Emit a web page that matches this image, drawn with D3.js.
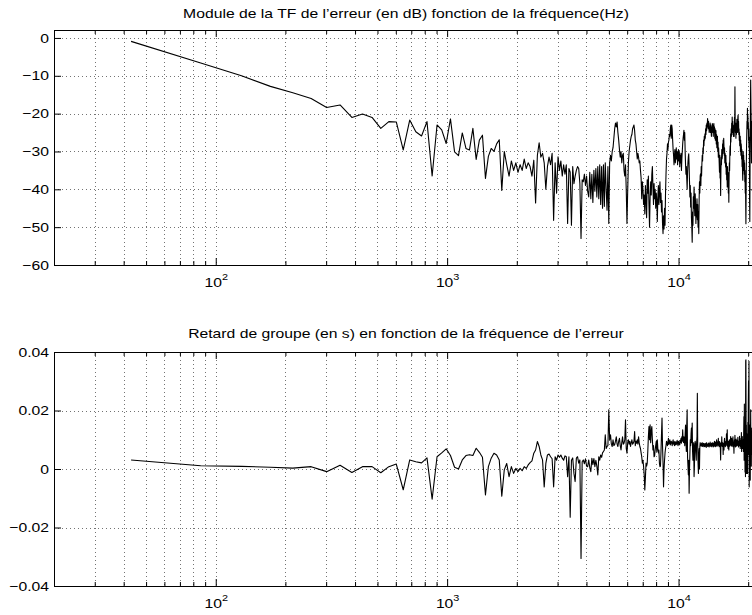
<!DOCTYPE html>
<html>
<head>
<meta charset="utf-8">
<script src="https://cdn.jsdelivr.net/npm/d3@7"></script>
<style>
  body { margin: 0; background: #fff; }
  svg { display: block; }
  text { font-family: "Liberation Sans", Arial, Helvetica, sans-serif; fill: #000; }
</style>
</head>
<body>
<svg id="fig" width="752" height="615"></svg>
<script>
// FFT bin spacing (Hz): bin k sits at k * binHz
const binHz = 44100 / 1024

// module of the error spectrum (dB), bins 1..485
const moduleDb = [
  -0.9, -6.6, -10.0, -12.8, -14.5, -16.0, -18.4, -17.7, -21.0, -20.1,
  -21.0, -23.9, -22.1, -22.2, -29.6, -21.7, -24.8, -25.9, -22.1, -36.5,
  -23.0, -24.3, -27.9, -21.4, -30.1, -31.1, -25.1, -29.2, -29.6, -23.9,
  -32.1, -27.0, -25.7, -37.1, -31.3, -29.2, -30.0, -28.0, -26.9, -40.3,
  -30.0, -33.5, -36.5, -32.5, -35.0, -33.0, -35.5, -33.5, -35.0, -32.0,
  -34.5, -33.0, -34.0, -36.5, -32.3, -43.6, -31.0, -27.7, -31.5, -30.5,
  -33.0, -40.0, -34.0, -31.5, -33.5, -30.5, -48.2, -33.0, -41.0, -31.4,
  -35.0, -32.5, -36.5, -33.5, -36.0, -33.5, -49.0, -34.5, -35.5, -49.5,
  -34.0, -38.5, -36.5, -35.0, -34.0, -34.5, -38.5, -53.0, -37.5, -38.0,
  -36.0, -39.0, -36.5, -40.5, -42.0, -35.5, -42.5, -36.0, -43.5, -35.0,
  -40.5, -34.5, -42.0, -34.0, -42.5, -33.5, -44.0, -34.0, -45.0, -33.5,
  -44.5, -33.0, -40.0, -45.5, -34.0, -49.0, -33.0, -31.0, -32.5, -30.0,
  -29.0, -26.5, -24.0, -22.5, -23.5, -22.2, -25.0, -27.0, -29.5, -31.5,
  -30.0, -33.0, -31.0, -30.5, -35.0, -36.5, -33.5, -40.0, -49.0, -40.5,
  -33.0, -30.0, -28.5, -27.0, -26.0, -25.5, -24.0, -23.5, -23.0, -24.5,
  -27.0, -28.0, -30.0, -32.0, -30.5, -31.5, -33.0, -32.5, -35.0, -37.0,
  -42.5, -38.0, -40.0, -44.0, -41.5, -46.5, -39.0, -43.0, -47.5, -37.5,
  -41.0, -36.5, -44.0, -50.0, -42.0, -38.0, -41.5, -36.0, -34.0, -39.5,
  -44.0, -38.5, -42.5, -40.0, -45.0, -41.0, -43.0, -48.5, -42.0, -39.0,
  -44.0, -40.5, -38.0, -43.5, -41.0, -46.0, -43.0, -49.0, -51.7, -47.0,
  -50.5, -45.0, -49.5, -41.0, -36.0, -32.0, -30.5, -28.0, -29.5, -27.5,
  -27.0, -25.5, -26.0, -24.0, -23.0, -26.5, -23.0, -24.0, -27.0, -29.5,
  -31.0, -33.5, -31.0, -29.5, -33.0, -31.5, -29.0, -32.0, -30.0, -33.5,
  -31.0, -29.5, -32.5, -30.0, -34.0, -31.0, -33.0, -30.5, -35.0, -32.0,
  -30.0, -28.0, -26.5, -25.5, -24.4, -27.0, -25.0, -30.0, -33.5, -36.0,
  -34.0, -37.2, -40.0, -35.5, -33.0, -31.5, -30.6, -34.0, -38.0, -42.0,
  -39.0, -44.7, -41.0, -47.5, -50.0, -54.0, -46.0, -49.5, -42.0, -45.0,
  -39.4, -44.0, -47.0, -41.2, -43.5, -49.0, -44.0, -47.3, -42.5, -48.0,
  -44.0, -50.0, -46.0, -51.7, -43.0, -38.0, -41.0, -36.5, -35.9, -39.0,
  -34.0, -36.5, -33.2, -31.0, -32.5, -29.0, -30.5, -27.0, -28.5, -26.0,
  -27.0, -25.3, -26.5, -24.0, -25.5, -23.0, -24.5, -22.5, -23.5, -21.3,
  -22.5, -24.0, -22.0, -23.5, -25.0, -23.5, -24.5, -22.5, -25.0, -23.0,
  -24.4, -26.0, -23.5, -25.0, -22.6, -24.5, -23.0, -26.0, -24.0, -22.6,
  -25.0, -23.5, -26.5, -24.0, -27.0, -26.2, -24.5, -28.0, -25.5, -29.0,
  -27.9, -26.0, -30.0, -27.5, -31.5, -29.0, -30.6, -33.0, -35.5, -31.0,
  -37.0, -34.0, -41.6, -35.0, -31.5, -33.5, -29.5, -32.0, -31.4, -28.0,
  -30.5, -27.0, -29.5, -26.5, -28.8, -31.0, -29.0, -33.0, -30.5, -32.5,
  -34.1, -31.0, -36.0, -33.0, -37.5, -35.0, -39.4, -34.0, -38.0, -35.5,
  -41.0, -36.0, -43.4, -37.0, -33.0, -35.0, -30.0, -28.5, -31.0, -25.3,
  -27.5, -24.0, -26.0, -22.5, -25.0, -20.9, -24.0, -22.0, -25.5, -23.0,
  -26.0, -24.5, -23.5, -26.0, -21.0, -24.0, -12.9, -22.0, -25.0, -22.5,
  -26.5, -23.0, -25.5, -23.5, -21.5, -24.5, -22.0, -25.0, -21.0, -20.4,
  -23.5, -22.0, -25.5, -24.0, -27.0, -25.0, -28.5, -27.9, -26.0, -30.0,
  -27.0, -31.0, -28.0, -28.8, -32.0, -29.5, -34.0, -31.0, -35.5, -37.6,
  -33.0, -30.0, -34.0, -31.0, -35.0, -32.3, -36.0, -33.0, -38.0, -35.0,
  -41.0, -37.0, -44.0, -49.1, -40.0, -33.0, -28.0, -25.0, -22.0, -24.0,
  -18.6, -22.0, -20.5, -24.0, -22.5, -27.0, -24.0, -29.0, -26.2, -30.0,
  -44.0, -48.5, -35.0, -25.0, -18.0, -11.1, -16.0, -21.0, -27.0, -33.0,
  -24.0, -28.0, -22.0, -23.5, -26.0
]

// group delay of the error (s), bins 1..485
const groupDelay = [
  0.0031, 0.0011, 0.0009, 0.0006, 0.0003, 0.0008, -0.0009, 0.0013, -0.0012, 0.0008,
  0.0008, -0.0013, 0.0008, 0.0017, -0.0071, 0.0031, 0.0025, 0.0021, 0.0038, -0.0103,
  0.0042, 0.0055, 0.0069, 0.0046, 0.0006, 0.0000, 0.0031, 0.0046, 0.0049, 0.0046,
  0.0071, 0.0057, 0.0040, -0.0089, 0.0008, 0.0037, 0.0054, 0.0048, 0.0031, -0.0093,
  -0.0003, 0.0019, -0.0026, 0.0008, -0.0015, 0.0002, -0.0009, 0.0002, -0.0006, 0.0008,
  0.0002, 0.0014, 0.0022, 0.0028, 0.0054, 0.0065, 0.0094, 0.0077, 0.0048, 0.0031,
  -0.0061, 0.0019, 0.0048, 0.0051, 0.0042, 0.0035, -0.0061, 0.0042, 0.0030, 0.0048,
  0.0040, 0.0048, 0.0037, 0.0030, 0.0045, 0.0042, -0.0026, 0.0042, -0.0165, 0.0030,
  0.0038, -0.0015, -0.0043, 0.0037, 0.0042, 0.0020, 0.0031, -0.0306, 0.0025, 0.0031,
  0.0018, 0.0035, 0.0010, 0.0008, 0.0031, 0.0005, -0.0009, 0.0037, 0.0015, 0.0036,
  0.0008, 0.0030, 0.0010, -0.0020, 0.0042, 0.0030, 0.0048, 0.0040, 0.0055, 0.0060,
  0.0065, 0.0117, 0.0070, 0.0077, 0.0080, 0.0202, 0.0100, 0.0117, 0.0085, 0.0077,
  0.0100, 0.0080, 0.0083, 0.0095, 0.0110, 0.0085, 0.0077, 0.0095, 0.0105, 0.0080,
  0.0065, 0.0090, 0.0110, 0.0085, 0.0088, 0.0100, 0.0168, 0.0070, 0.0054, 0.0090,
  0.0100, 0.0085, 0.0095, 0.0077, 0.0090, 0.0100, 0.0085, 0.0088, 0.0095, 0.0128,
  0.0080, 0.0095, 0.0088, 0.0100, 0.0085, 0.0110, 0.0090, 0.0077, 0.0070, 0.0055,
  0.0042, 0.0020, 0.0030, 0.0008, -0.0020, -0.0072, -0.0030, 0.0020, 0.0010, 0.0019,
  0.0060, 0.0110, 0.0145, 0.0100, 0.0151, 0.0090, 0.0130, 0.0145, 0.0100, 0.0065,
  0.0080, 0.0042, 0.0045, 0.0065, 0.0080, 0.0095, 0.0060, 0.0100, 0.0070, 0.0055,
  0.0065, 0.0020, 0.0008, 0.0010, 0.0060, 0.0120, 0.0174, 0.0080, 0.0020, -0.0061,
  0.0000, 0.0030, 0.0055, 0.0070, 0.0080, 0.0095, 0.0088, 0.0080, 0.0092, 0.0105,
  0.0085, 0.0090, 0.0100, 0.0082, 0.0090, 0.0095, 0.0088, 0.0080, 0.0092, 0.0100,
  0.0085, 0.0092, 0.0080, 0.0095, 0.0088, 0.0082, 0.0092, 0.0085, 0.0098, 0.0088,
  0.0080, 0.0095, 0.0085, 0.0092, 0.0082, 0.0098, 0.0090, 0.0105, 0.0088, 0.0110,
  0.0095, 0.0134, 0.0100, 0.0090, 0.0110, 0.0100, 0.0080, 0.0120, 0.0150, 0.0090,
  0.0060, 0.0150, 0.0202, 0.0040, 0.0010, -0.0020, 0.0030, -0.0083, 0.0000, 0.0050,
  0.0100, 0.0080, 0.0120, 0.0140, 0.0090, 0.0157, 0.0060, 0.0030, 0.0070, 0.0090,
  -0.0026, 0.0010, 0.0080, 0.0095, 0.0085, 0.0055, 0.0030, 0.0090, 0.0110, 0.0259,
  0.0080, 0.0020, -0.0015, 0.0040, 0.0070, 0.0000, 0.0075, 0.0090, 0.0080, 0.0085,
  0.0078, 0.0088, 0.0080, 0.0090, 0.0077, 0.0085, 0.0080, 0.0088, 0.0076, 0.0086,
  0.0082, 0.0076, 0.0088, 0.0079, 0.0085, 0.0074, 0.0090, 0.0080, 0.0086, 0.0077,
  0.0084, 0.0078, 0.0089, 0.0081, 0.0075, 0.0087, 0.0080, 0.0092, 0.0078, 0.0085,
  0.0079, 0.0088, 0.0076, 0.0084, 0.0090, 0.0080, 0.0086, 0.0075, 0.0089, 0.0082,
  0.0078, 0.0095, 0.0080, 0.0087, 0.0076, 0.0092, 0.0083, 0.0079, 0.0100, 0.0085,
  0.0078, 0.0092, 0.0082, 0.0088, 0.0105, 0.0080, 0.0090, 0.0076, 0.0094, 0.0081,
  0.0088, 0.0070, 0.0031, 0.0085, 0.0092, 0.0079, 0.0110, 0.0084, 0.0077, 0.0090,
  0.0082, 0.0050, 0.0088, 0.0079, 0.0065, 0.0093, 0.0105, 0.0081, 0.0088, 0.0076,
  0.0090, 0.0095, 0.0080, 0.0120, 0.0085, 0.0092, 0.0134, 0.0078, 0.0088, 0.0070,
  0.0095, 0.0082, 0.0065, 0.0090, 0.0100, 0.0078, 0.0093, 0.0084, 0.0096, 0.0111,
  0.0080, 0.0092, 0.0085, 0.0105, 0.0078, 0.0099, 0.0088, 0.0082, 0.0110, 0.0076,
  0.0090, 0.0084, 0.0054, 0.0092, 0.0100, 0.0080, 0.0115, 0.0086, 0.0075, 0.0095,
  0.0083, 0.0102, 0.0078, 0.0090, 0.0085, 0.0096, 0.0099, 0.0080, 0.0108, 0.0082,
  0.0090, 0.0075, 0.0095, 0.0086, 0.0080, 0.0112, 0.0084, 0.0092, 0.0070, 0.0098,
  0.0077, 0.0105, 0.0082, 0.0125, 0.0060, 0.0095, 0.0088, 0.0111, 0.0070, 0.0085,
  0.0070, 0.0100, 0.0060, 0.0120, 0.0179, 0.0030, 0.0222, 0.0050, 0.0110, -0.0010,
  0.0150, -0.0026, 0.0370, 0.0373, 0.0060, 0.0150, -0.0015, 0.0100, 0.0040, 0.0120,
  -0.0015, 0.0090, 0.0160, 0.0050, 0.0230, 0.0300, 0.0100, 0.0368, -0.0061, 0.0120,
  0.0020, 0.0150, 0.0080, -0.0038, 0.0100, 0.0202, 0.0060, 0.0120, 0.0010, 0.0110,
  0.0080, 0.0140, 0.0050, 0.0100, 0.0090
]

const freqRange = [20, 22050]
const decades = [100, 1000, 10000]
const moduleTicks = [0, -10, -20, -30, -40, -50, -60]
const delayTicks = [0.04, 0.02, 0, -0.02, -0.04]
const moduleTitle = "Module de la TF de l\u2019erreur (en dB) fonction de la fréquence(Hz)"
const delayTitle = "Retard de groupe (en s) en fonction de la fréquence de l\u2019erreur"

const plotLeft = 54, plotRight = 758
// the figure text is wider than it is tall (stretched print)
const textStretch = 1.21
const svg = d3.select("#fig")

// every 1..9 x 10^n inside the frequency range (minor + major log positions)
let logSteps = []
for (let d = 10; d <= 10000; d *= 10) {
  for (let m = 1; m <= 9; m++) {
    let v = m * d
    if (v > freqRange[0] && v < freqRange[1]) logSteps.push(v)
  }
}
let minorSteps = logSteps.filter(v => decades.indexOf(v) < 0)

function minus_format(v){
  return String(v).replace("-", "\u2212")
}

function stretch_text(sel){
  sel.each(function(){
    let t = d3.select(this)
    let tx = +t.attr("x") || 0
    let ty = +t.attr("y") || 0
    t.attr("x", 0).attr("y", 0)
      .attr("transform", `translate(${tx},${ty}) scale(${textStretch},1)`)
  })
}

function draw_panel(panel){
  let x = d3.scaleLog().domain(freqRange).range([plotLeft, plotRight])
  let y = d3.scaleLinear().domain(panel.yDomain).range([panel.bottom, panel.top])
  let g = svg.append("g")

  // dotted grid
  g.append("g").selectAll("line").data(logSteps).join("line")
    .attr("x1", d => Math.round(x(d)) + 0.5).attr("x2", d => Math.round(x(d)) + 0.5)
    .attr("y1", panel.top).attr("y2", panel.bottom)
    .attr("stroke", "#000").attr("stroke-opacity", 0.55).attr("stroke-dasharray", "1,3")
  g.append("g").selectAll("line").data(panel.yTicks.filter(v => y(v) > panel.top + 1 && y(v) < panel.bottom - 1)).join("line")
    .attr("x1", plotLeft).attr("x2", plotRight)
    .attr("y1", d => Math.round(y(d)) + 0.5).attr("y2", d => Math.round(y(d)) + 0.5)
    .attr("stroke", "#000").attr("stroke-opacity", 0.55).attr("stroke-dasharray", "1,3")

  // curve
  let line = d3.line()
    .x((d, i) => x((i + 1) * binHz))
    .y(d => y(d))
  g.append("path")
    .datum(panel.values)
    .attr("d", line)
    .attr("fill", "none")
    .attr("stroke", "#000")
    .attr("stroke-width", 1.1)
    .attr("stroke-linejoin", "round")

  // ticks, all pointing inside
  let bottomMajor = d3.axisBottom(x).tickValues(decades).tickSizeInner(-7).tickSizeOuter(0)
  let bottomMinor = d3.axisBottom(x).tickValues(minorSteps).tickSizeInner(-4).tickSizeOuter(0).tickFormat("")
  let topMajor = d3.axisTop(x).tickValues(decades).tickSizeInner(-7).tickSizeOuter(0).tickFormat("")
  let topMinor = d3.axisTop(x).tickValues(minorSteps).tickSizeInner(-4).tickSizeOuter(0).tickFormat("")
  let leftAxis = d3.axisLeft(y).tickValues(panel.yTicks).tickSizeInner(-7).tickSizeOuter(0).tickPadding(5).tickFormat(minus_format)
  let rightAxis = d3.axisRight(y).tickValues(panel.yTicks).tickSizeInner(-7).tickSizeOuter(0).tickFormat("")

  let gb = g.append("g").attr("transform", `translate(0,${panel.bottom})`).call(bottomMajor)
  g.append("g").attr("transform", `translate(0,${panel.bottom})`).call(bottomMinor)
  g.append("g").attr("transform", `translate(0,${panel.top})`).call(topMajor)
  g.append("g").attr("transform", `translate(0,${panel.top})`).call(topMinor)
  let gl = g.append("g").attr("transform", `translate(${plotLeft},0)`).call(leftAxis)
  g.append("g").attr("transform", `translate(${plotRight},0)`).call(rightAxis)
  g.selectAll(".domain").remove()

  gl.selectAll(".tick text")
    .attr("font-size", 13)
    .attr("font-family", "Liberation Sans, Arial, sans-serif")
    .call(stretch_text)

  // 10^n labels
  gb.selectAll(".tick text")
    .text(null)
    .attr("dy", null)
    .attr("y", 22)
    .attr("font-size", 13)
    .attr("font-family", "Liberation Sans, Arial, sans-serif")
    .each(function(d){
      let t = d3.select(this)
      t.append("tspan").text("10")
      t.append("tspan").attr("dy", -7).attr("font-size", 9).text(Math.round(Math.log10(d)))
    })
    .call(stretch_text)

  // frame
  g.append("rect")
    .attr("x", plotLeft + 0.5).attr("y", panel.top + 0.5)
    .attr("width", plotRight - plotLeft).attr("height", panel.bottom - panel.top)
    .attr("fill", "none").attr("stroke", "#000").attr("stroke-width", 1)

  // title
  g.append("text")
    .attr("x", (plotLeft + plotRight) / 2)
    .attr("y", panel.titleY)
    .attr("text-anchor", "middle")
    .attr("font-size", 13)
    .text(panel.title)
    .call(stretch_text)
}

draw_panel({
  values: moduleDb, yDomain: [-60, 2.1], yTicks: moduleTicks,
  top: 30, bottom: 265, title: moduleTitle, titleY: 18
})
draw_panel({
  values: groupDelay, yDomain: [-0.04, 0.04], yTicks: delayTicks,
  top: 352, bottom: 586, title: delayTitle, titleY: 338
})
</script>
</body>
</html>
